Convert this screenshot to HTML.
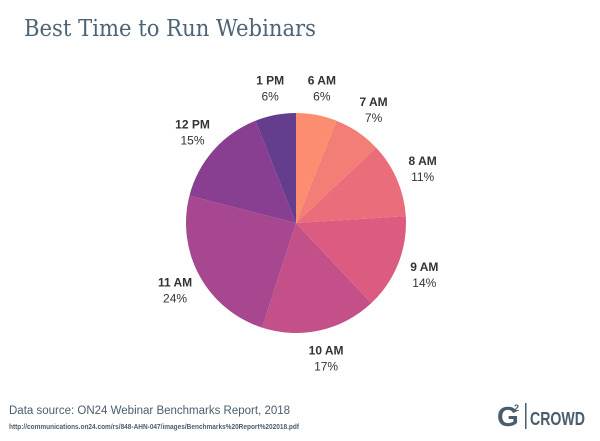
<!DOCTYPE html>
<html><head><meta charset="utf-8"><style>
body{margin:0;width:600px;height:441px;background:#fff;overflow:hidden;font-family:"Liberation Sans",sans-serif;position:relative}
#src{position:absolute;left:9px;top:405px;font-size:11.5px;color:#4a5d6d}
#logo{position:absolute;left:497px;top:401px}
</style></head><body>
<svg id="chart" width="600" height="441" style="position:absolute;left:0;top:0">
<text x="24" y="36" font-family="DejaVu Serif" font-size="23" fill="#4c6475" textLength="292" lengthAdjust="spacingAndGlyphs">Best Time to Run Webinars</text>
<text x="9" y="429" font-family="Liberation Sans" font-weight="bold" font-size="7" fill="#4a5d6d" textLength="290" lengthAdjust="spacingAndGlyphs">http://communications.on24.com/rs/848-AHN-047/images/Benchmarks%20Report%202018.pdf</text>
</svg>
<div id="src">Data source: ON24 Webinar Benchmarks Report, 2018</div>
<svg id="logo" width="92" height="30">
<text x="0" y="25" font-family="Liberation Sans" font-weight="bold" font-size="28" fill="#4a5d6d">G</text>
<text x="17" y="10" font-family="Liberation Sans" font-weight="bold" font-size="9" fill="#4a5d6d">2</text>
<rect x="28" y="2" width="1.5" height="26" fill="#4a5d6d"/>
<text x="33" y="24" font-family="Liberation Sans" font-weight="bold" font-size="18" fill="#4a5d6d" textLength="55" lengthAdjust="spacingAndGlyphs">CROWD</text>
</svg>
<script>
const categories=["6 AM","7 AM","8 AM","9 AM","10 AM","11 AM","12 PM","1 PM"];
const values=[6,7,11,14,17,24,15,6];
const colors=["#fc8d70","#f37e76","#ea6d7b","#dc5c81","#c4508a","#a6478f","#883f91","#653d8f"];
const svg=document.getElementById('chart');
const NS="http://www.w3.org/2000/svg";
const cx=296,cy=223,r=110,lr=138;
const total=values.reduce((a,b)=>a+b,0);
function pt(a,rad){return [cx+rad*Math.sin(a),cy-rad*Math.cos(a)];}
let acc=0;
values.forEach((v,i)=>{
  const a0=acc/total*2*Math.PI;acc+=v;const a1=acc/total*2*Math.PI;
  const p0=pt(a0,r),p1=pt(a1,r);
  const path=document.createElementNS(NS,'path');
  path.setAttribute('d',`M${cx},${cy}L${p0[0]},${p0[1]}A${r},${r} 0 ${a1-a0>Math.PI?1:0} 1 ${p1[0]},${p1[1]}Z`);
  path.setAttribute('fill',colors[i]);
  
  
  svg.appendChild(path);
  const m=(a0+a1)/2,lp=pt(m,lr);
  const t1=document.createElementNS(NS,'text');
  t1.setAttribute('x',lp[0]);t1.setAttribute('y',lp[1]-3);
  t1.setAttribute('text-anchor','middle');t1.setAttribute('font-weight','bold');
  t1.setAttribute('font-size','12');t1.setAttribute('fill','#333');
  t1.textContent=categories[i];
  
  
  svg.appendChild(t1);
  const t2=document.createElementNS(NS,'text');
  t2.setAttribute('x',lp[0]);t2.setAttribute('y',lp[1]+13);
  t2.setAttribute('text-anchor','middle');
  t2.setAttribute('font-size','12');t2.setAttribute('fill','#333');
  t2.textContent=v+'%';
  
  
  svg.appendChild(t2);
});
</script>
</body></html>
